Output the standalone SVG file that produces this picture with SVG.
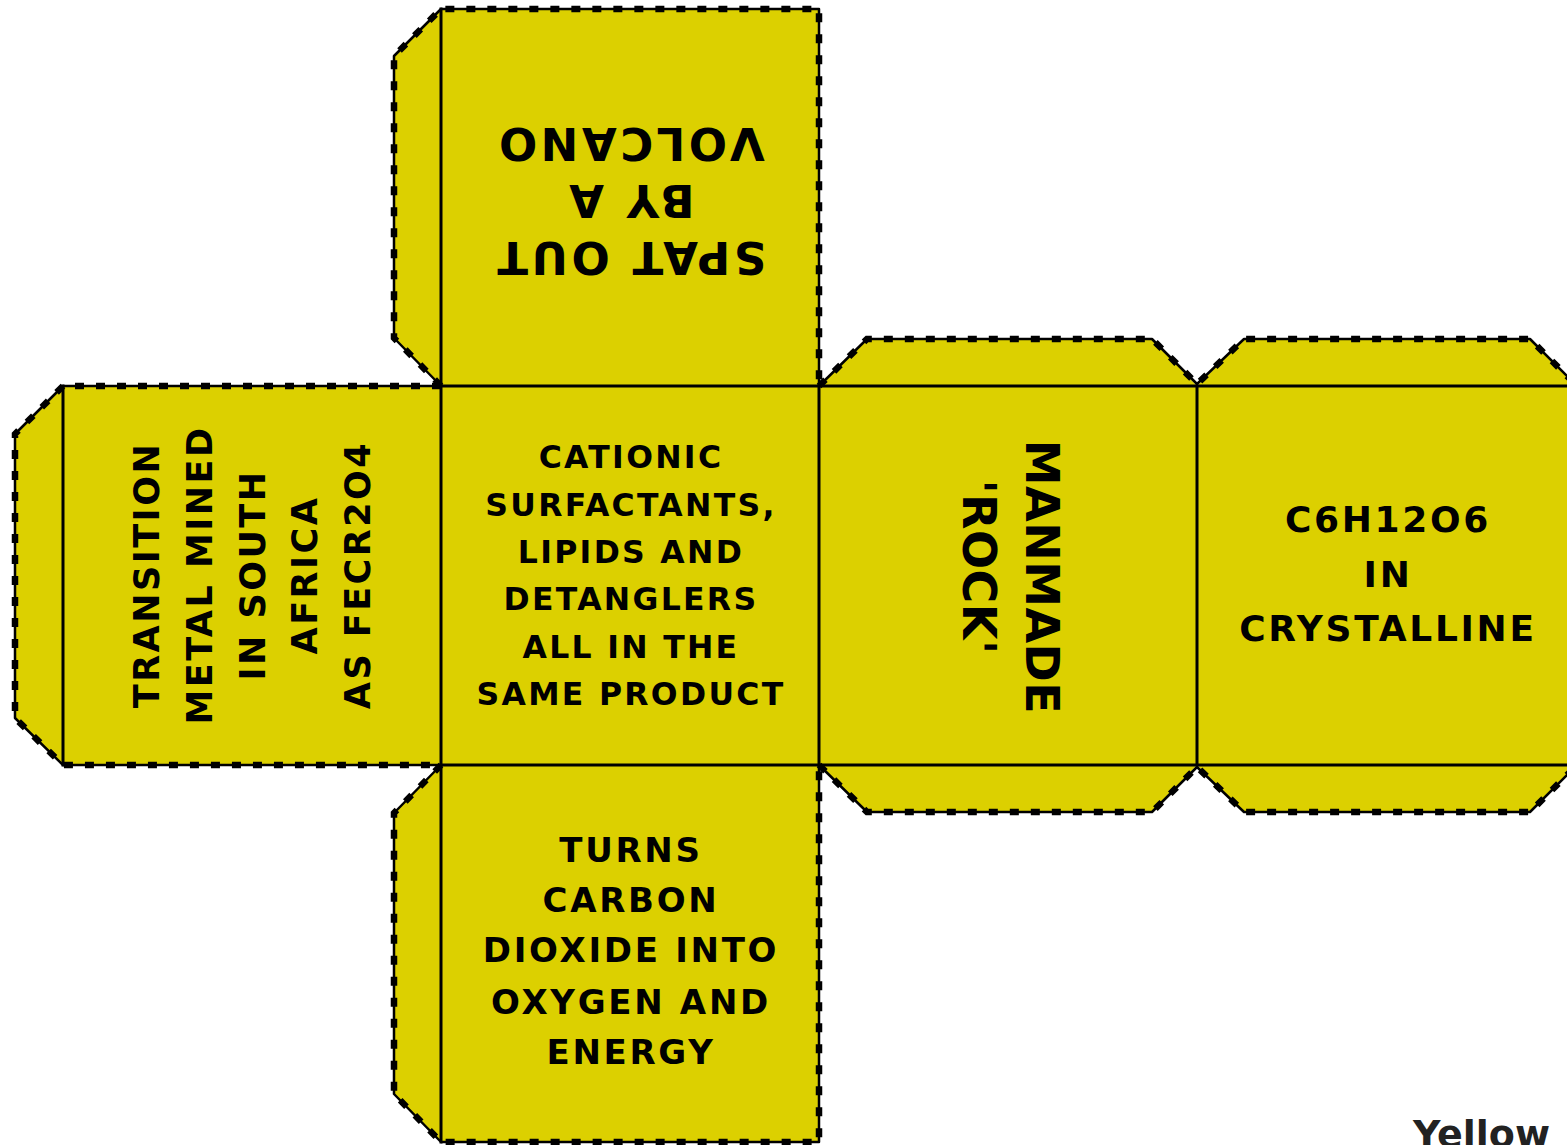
<svg xmlns="http://www.w3.org/2000/svg" width="1567" height="1145" viewBox="0 0 1567 1145">
<style>
.face{fill:#DCD000;stroke:none}
.fold{fill:none;stroke:#000;stroke-width:3;stroke-linecap:square}
.cut{fill:none;stroke:#000;stroke-width:2.5;stroke-linejoin:round}
.cutd{fill:none;stroke:#000;stroke-width:6.5;stroke-dasharray:9 12}
.t{font-family:"DejaVu Sans","Liberation Sans",sans-serif;font-weight:bold;fill:#000;text-anchor:middle}
</style>
<defs>
<path id="c1" d="M441,386 L394,338 L394,56 L441,9 L819,9 L819,386"/>
<path id="c2" d="M441,386 L63,386 L15,434 L15,718 L63,765 L441,765"/>
<path id="c3" d="M441,765 L394,813 L394,1094 L441,1142 L819,1142 L819,765"/>
<path id="c4" d="M819,386 L867,339 L1152,339 L1197,384 L1244,339 L1530,339 L1577,386"/>
<path id="c5" d="M819,765 L867,812 L1152,812 L1197,767 L1244,812 L1530,812 L1577,765"/>
</defs>
<rect width="1567" height="1145" fill="#fff"/>
<g id="face-top">
<polygon class="face" points="441,9 819,9 819,386 441,386 394,338 394,56"/>
<g transform="rotate(180 630 200)">
<text class="t" x="630" y="158" font-size="45" letter-spacing="3.5">SPAT OUT</text>
<text class="t" x="630" y="215" font-size="45" letter-spacing="3.5">BY A</text>
<text class="t" x="630" y="272" font-size="45" letter-spacing="3.5">VOLCANO</text>
</g>
</g>
<g id="face-left">
<polygon class="face" points="63,386 441,386 441,765 63,765 15,718 15,434"/>
<g transform="rotate(-90 252 575)">
<text class="t" x="252" y="482" font-size="35" letter-spacing="2.5">TRANSITION</text>
<text class="t" x="252" y="535" font-size="35" letter-spacing="2.5">METAL MINED</text>
<text class="t" x="252" y="588" font-size="35" letter-spacing="2.5">IN SOUTH</text>
<text class="t" x="252" y="640" font-size="35" letter-spacing="2.5">AFRICA</text>
<text class="t" x="252" y="693" font-size="35" letter-spacing="2.5">AS FECR2O4</text>
</g>
</g>
<g id="face-center">
<rect class="face" x="441" y="386" width="378" height="379"/>
<text class="t" x="631" y="468" font-size="31.5" letter-spacing="2.3">CATIONIC</text>
<text class="t" x="631" y="516" font-size="31.5" letter-spacing="2.3">SURFACTANTS,</text>
<text class="t" x="631" y="563" font-size="31.5" letter-spacing="2.3">LIPIDS AND</text>
<text class="t" x="631" y="610" font-size="31.5" letter-spacing="2.3">DETANGLERS</text>
<text class="t" x="631" y="658" font-size="31.5" letter-spacing="2.3">ALL IN THE</text>
<text class="t" x="631" y="705" font-size="31.5" letter-spacing="2.3">SAME PRODUCT</text>
</g>
<g id="face-bottom">
<polygon class="face" points="441,765 819,765 819,1142 441,1142 394,1094 394,813"/>
<text class="t" x="631" y="862" font-size="34" letter-spacing="2.7">TURNS</text>
<text class="t" x="631" y="912" font-size="34" letter-spacing="2.7">CARBON</text>
<text class="t" x="631" y="962" font-size="34" letter-spacing="2.7">DIOXIDE INTO</text>
<text class="t" x="631" y="1014" font-size="34" letter-spacing="2.7">OXYGEN AND</text>
<text class="t" x="631" y="1064" font-size="34" letter-spacing="2.7">ENERGY</text>
</g>
<g id="face-right1">
<polygon class="face" points="819,386 867,339 1152,339 1197,386 1197,765 1152,812 867,812 819,765"/>
<g transform="rotate(90 1010 575)">
<text class="t" x="1012" y="559" font-size="46" letter-spacing="0.5">MANMADE</text>
<text class="t" x="1002" y="622" font-size="46" letter-spacing="0.5">'ROCK'</text>
</g>
</g>
<g id="face-right2">
<polygon class="face" points="1197,386 1244,339 1530,339 1577,386 1577,765 1530,812 1244,812 1197,765"/>
<text class="t" x="1388" y="532" font-size="36" letter-spacing="2.7">C6H12O6</text>
<text class="t" x="1388" y="587" font-size="36" letter-spacing="2.7">IN</text>
<text class="t" x="1388" y="641" font-size="36" letter-spacing="2.7">CRYSTALLINE</text>
</g>
<g id="connectors">
<g id="folds">
<line class="fold" x1="441" y1="9" x2="441" y2="1142"/>
<line class="fold" x1="63" y1="386" x2="63" y2="765"/>
<line class="fold" x1="441" y1="386" x2="1580" y2="386"/>
<line class="fold" x1="441" y1="765" x2="1580" y2="765"/>
<line class="fold" x1="819" y1="386" x2="819" y2="765"/>
<line class="fold" x1="1197" y1="386" x2="1197" y2="765"/>
</g>
<g id="cuts">
<use href="#c1" class="cut"/><use href="#c2" class="cut"/><use href="#c3" class="cut"/><use href="#c4" class="cut"/><use href="#c5" class="cut"/>
<use href="#c1" class="cutd"/><use href="#c2" class="cutd"/><use href="#c3" class="cutd"/><use href="#c4" class="cutd"/><use href="#c5" class="cutd"/>
</g>
</g>
<text x="1413" y="1147" font-family="DejaVu Sans, sans-serif" font-weight="bold" font-size="38" fill="#222">Yellow</text>
</svg>
